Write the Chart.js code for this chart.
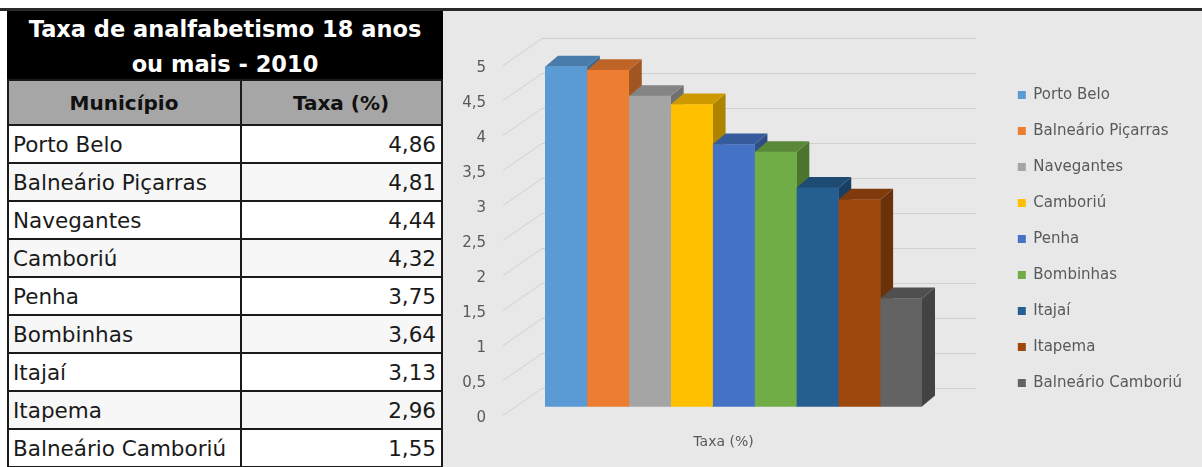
<!DOCTYPE html>
<html>
<head>
<meta charset="utf-8">
<script src="https://cdn.jsdelivr.net/npm/chart.js@4"></script>
<style>
  html, body { margin:0; padding:0; background:#ffffff; }
  body { width:1202px; height:467px; position:relative; overflow:hidden; }
  #topline { position:absolute; left:0; top:8px; width:1202px; height:3px; background:#2a2a2a; }
  #tbl { position:absolute; left:7px; top:11px; width:436px; height:456px; background:#000; }
  #title { position:absolute; left:0; top:1px; width:436px; height:68px; color:#fff;
    font-family:"DejaVu Sans", sans-serif; font-weight:bold; font-size:22.5px; line-height:35px;
    text-align:center; }
  table { position:absolute; left:0; top:68px; width:436px; border-collapse:collapse;
    font-family:"DejaVu Sans", sans-serif; table-layout:fixed; }
  td, th { border:2px solid #1a1a1a; padding:0 5px 0 4px; overflow:hidden; white-space:nowrap; }
  th { background:#a6a6a6; height:43px; font-weight:bold; font-size:20px; text-align:center; color:#111; }
  td { background:#fff; height:36px; font-size:21.5px; color:#1a1a1a; }
  td.v { text-align:right; }
  tr:nth-child(odd) td { background:#f7f7f7; }
  #chartbox { position:absolute; left:443px; top:11px; width:759px; height:456px; background:#e8e8e8; }
  canvas { display:block; }
</style>
</head>
<body>
<div id="topline"></div>
<div id="tbl">
  <div id="title">Taxa de analfabetismo 18 anos<br>ou mais - 2010</div>
  <table id="t"></table>
</div>
<div id="chartbox"><canvas id="c" width="759" height="456"></canvas></div>
<script>
const headers = ['Município', 'Taxa (%)'];
const categories = ['Taxa (%)'];
const municipios = ['Porto Belo', 'Balneário Piçarras', 'Navegantes', 'Camboriú', 'Penha',
                    'Bombinhas', 'Itajaí', 'Itapema', 'Balneário Camboriú'];
const taxas = [4.86, 4.81, 4.44, 4.32, 3.75, 3.64, 3.13, 2.96, 1.55];
const colors = ['#5B9BD5', '#ED7D31', '#A5A5A5', '#FFC000', '#4472C4',
                '#70AD47', '#255E91', '#9E480E', '#636363'];
const yTickLabels = ['0', '0,5', '1', '1,5', '2', '2,5', '3', '3,5', '4', '4,5', '5'];

// table
(function(){
  const t = document.getElementById('t');
  let html = '<colgroup><col style="width:233px"><col></colgroup>';
  html += '<tr><th>' + headers[0] + '</th><th>' + headers[1] + '</th></tr>';
  for (let i = 0; i < municipios.length; i++) {
    html += '<tr><td>' + municipios[i] + '</td><td class="v">' +
      taxas[i].toFixed(2).replace('.', ',') + '</td></tr>';
  }
  t.innerHTML = html;
})();

function shade(hex, f) {
  const n = parseInt(hex.slice(1), 16);
  const r = Math.round(((n >> 16) & 255) * f), g = Math.round(((n >> 8) & 255) * f), b = Math.round((n & 255) * f);
  return 'rgb(' + r + ',' + g + ',' + b + ')';
}

const DX = 13, DY = 11;
const depthPlugin = {
  id: 'depth3d',
  beforeDatasetsDraw(chart) {
    const ctx = chart.ctx, ca = chart.chartArea, y = chart.scales.y;
    ctx.save();
    ctx.strokeStyle = '#d0d0d0';
    ctx.lineWidth = 1;
    const startX = ca.left - 42, backL = ca.left - 3, backR = ca.right + 54;
    y.ticks.forEach(t => {
      const py = Math.round(y.getPixelForValue(t.value)) + 0.5;
      ctx.beginPath();
      ctx.moveTo(startX, py + 8);
      ctx.lineTo(backL, py - 19);
      ctx.lineTo(backR, py - 19);
      ctx.stroke();
    });
    chart.data.datasets.forEach((ds, i) => {
      const meta = chart.getDatasetMeta(i);
      meta.data.forEach(bar => {
        const p = bar.getProps(['x', 'y', 'base', 'width'], true);
        const left = p.x - p.width / 2, right = p.x + p.width / 2, top = p.y, bottom = p.base;
        const col = ds.backgroundColor;
        ctx.fillStyle = shade(col, 0.68);
        ctx.beginPath();
        ctx.moveTo(right, top); ctx.lineTo(right + DX, top - DY);
        ctx.lineTo(right + DX, bottom - DY); ctx.lineTo(right, bottom);
        ctx.closePath(); ctx.fill();
        ctx.fillStyle = shade(col, 0.8);
        ctx.beginPath();
        ctx.moveTo(left, top); ctx.lineTo(left + DX, top - DY);
        ctx.lineTo(right + DX, top - DY); ctx.lineTo(right, top);
        ctx.closePath(); ctx.fill();
      });
    });
    ctx.restore();
  }
};

const PLOT_RIGHT = 479;
const PAD_RIGHT = 10;
const hiddenTicks = (len) => ({ display: true, drawOnChartArea: false, drawTicks: true,
  tickLength: len, tickColor: 'rgba(0,0,0,0)', color: 'rgba(0,0,0,0)' });

new Chart(document.getElementById('c'), {
  type: 'bar',
  data: {
    labels: categories,
    datasets: municipios.map((m, i) => ({
      label: m, data: [taxas[i]], backgroundColor: colors[i], borderWidth: 0,
      categoryPercentage: 1, barPercentage: 1
    }))
  },
  options: {
    responsive: false,
    devicePixelRatio: 1,
    animation: false,
    layout: { padding: { left: 0, right: PAD_RIGHT, top: 0, bottom: 0 } },
    plugins: {
      legend: {
        position: 'right',
        maxWidth: 300,
        labels: {
          boxWidth: 8, boxHeight: 8, padding: 21, color: '#595959',
          font: { family: 'DejaVu Sans', size: 15 }
        }
      },
      tooltip: { enabled: false }
    },
    scales: {
      x: {
        position: 'bottom',
        grid: hiddenTicks(27),
        border: { display: false },
        ticks: { color: '#595959', font: { family: 'DejaVu Sans', size: 14 }, padding: 0, labelOffset: -10 },
        afterFit(s) { s.height = 60; }
      },
      xTop: {
        type: 'category', position: 'top', labels: categories,
        grid: { display: false, drawTicks: false }, border: { display: false },
        ticks: { display: false },
        afterFit(s) { s.height = 46; }
      },
      y: {
        min: 0, max: 5,
        grid: hiddenTicks(59),
        border: { display: false },
        ticks: {
          stepSize: 0.5, color: '#595959', padding: 0, labelOffset: 11,
          font: { family: 'DejaVu Sans', size: 15 },
          callback: (v, i) => yTickLabels[i]
        },
        afterFit(s) { s.width = 102; }
      },
      yRight: {
        type: 'linear', position: 'right', min: 0, max: 5,
        grid: { display: false, drawTicks: false }, border: { display: false },
        ticks: { display: false },
        afterFit(s) {
          const lw = (s.chart.legend && s.chart.legend.width) ? s.chart.legend.width : 206;
          s.width = Math.max(0, s.chart.width - PAD_RIGHT - lw - PLOT_RIGHT);
        }
      }
    }
  },
  plugins: [depthPlugin]
});
</script>
</body>
</html>
